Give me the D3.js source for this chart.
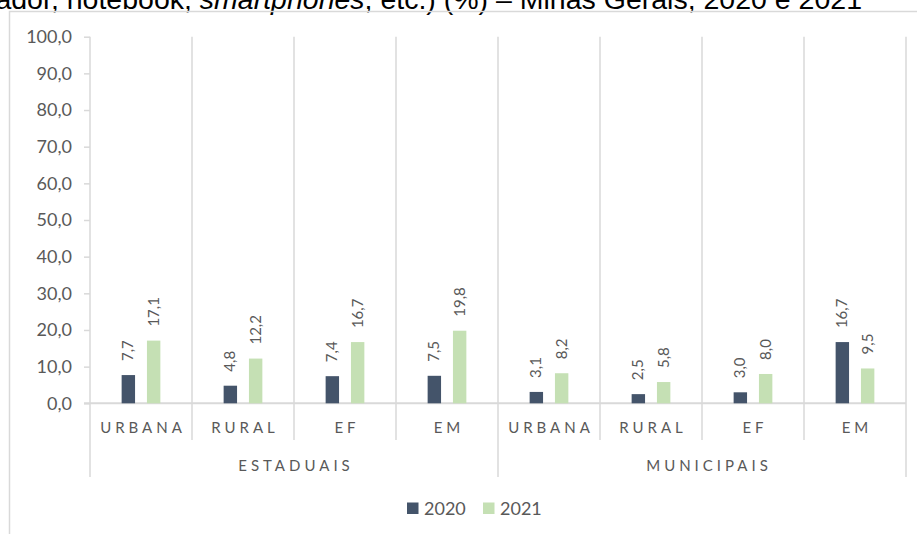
<!DOCTYPE html>
<html><head><meta charset="utf-8">
<script src="https://cdn.jsdelivr.net/npm/d3@7"></script>
<style>
html,body{margin:0;padding:0;background:#fff;overflow:hidden;}
svg{display:block;}
</style></head>
<body><svg id="chart" width="917" height="534"></svg>
<script>
const categories = ["URBANA","RURAL","EF","EM","URBANA","RURAL","EF","EM"];
const groups = ["ESTADUAIS","MUNICIPAIS"];
const years = ["2020","2021"];
const values2020 = [7.7, 4.8, 7.4, 7.5, 3.1, 2.5, 3.0, 16.7];
const values2021 = [17.1, 12.2, 16.7, 19.8, 8.2, 5.8, 8.0, 9.5];
const yTicks = [0,10,20,30,40,50,60,70,80,90,100];
const colors = ["#44546a", "#c5e0b4"];

const svg = d3.select("#chart");
const W = 917, H = 534;
const plot = {left: 90, right: 906, top: 36.7, bottom: 403.3};
const grid = "#d9d9d9";
const textGray = "#595959";
const fmt = v => d3.format(".1f")(v).replace(".", ",");

// title fragment (cut off at top, as in the reference)
const title = svg.append("text")
  .attr("x", 862).attr("y", 8.5)
  .attr("text-anchor", "end")
  .attr("font-family", "Liberation Sans, Arial, sans-serif")
  .attr("font-size", 28.5).attr("fill", "#000");
title.append("tspan").text("computador, notebook, ");
title.append("tspan").attr("font-style", "italic").text("smartphones");
title.append("tspan").text(", etc.) (%) – Minas Gerais, 2020 e 2021");

// outer border
svg.append("path")
  .attr("d", `M9.5,${H+2} V11.5 H${W+2}`)
  .attr("fill", "none").attr("stroke", grid).attr("stroke-width", 1.5);

const idx = d3.range(categories.length);
const x = d3.scaleBand().domain(idx).range([plot.left, plot.right]).padding(0);
const xSub = d3.scaleBand().domain(years).range([0, x.bandwidth()])
  .paddingInner(0.47).paddingOuter(1.25);
const y = d3.scaleLinear().domain([0, 100]).range([plot.bottom, plot.top]);

// vertical separators
const seps = d3.range(categories.length + 1);
svg.append("g").selectAll("line").data(seps).join("line")
  .attr("x1", i => i === categories.length ? plot.right : x(i))
  .attr("x2", i => i === categories.length ? plot.right : x(i))
  .attr("y1", plot.top)
  .attr("y2", i => (i % 4 === 0) ? 477 : 440)
  .attr("stroke", grid).attr("stroke-width", 1.5);

// y axis
const yAxis = d3.axisLeft(y).tickValues(yTicks).tickSize(6).tickPadding(12).tickFormat(fmt);
const ya = svg.append("g").attr("transform", `translate(${plot.left},0)`).call(yAxis);
ya.select(".domain").remove();
ya.selectAll(".tick line").attr("stroke", grid).attr("stroke-width", 1.5);
ya.selectAll(".tick text").attr("fill", textGray)
  .attr("font-family", "Lato, sans-serif").attr("font-size", 18);

// baseline
svg.append("line").attr("x1", plot.left - 6).attr("x2", plot.right)
  .attr("y1", y(0)).attr("y2", y(0)).attr("stroke", grid).attr("stroke-width", 2);

// bars
const series = [values2020, values2021];
series.forEach((vals, s) => {
  const g = svg.append("g");
  g.selectAll("rect").data(vals).join("rect")
    .attr("x", (d, i) => x(i) + xSub(years[s]))
    .attr("width", xSub.bandwidth())
    .attr("y", d => y(d))
    .attr("height", d => y(0) - y(d))
    .attr("fill", colors[s]);
  g.selectAll("text").data(vals).join("text")
    .attr("transform", (d, i) => `translate(${x(i) + xSub(years[s]) + xSub.bandwidth()/2 + 5},${y(d) - 14}) rotate(-90)`)
    .attr("text-anchor", "start")
    .attr("font-family", "Lato, sans-serif").attr("font-size", 15)
    .attr("fill", textGray)
    .text(d => fmt(d));
});

// category labels
svg.append("g").selectAll("text").data(categories).join("text")
  .attr("x", (d, i) => x(i) + x.bandwidth()/2 + 2)
  .attr("y", 433)
  .attr("text-anchor", "middle")
  .attr("font-family", "Lato, sans-serif").attr("font-size", 15)
  .attr("letter-spacing", 4)
  .attr("fill", textGray)
  .text(d => d);

// group labels
svg.append("g").selectAll("text").data(groups).join("text")
  .attr("x", (d, i) => x(i*4) + x.bandwidth()*2 + 2 + i*5)
  .attr("y", 471)
  .attr("text-anchor", "middle")
  .attr("font-family", "Lato, sans-serif").attr("font-size", 15)
  .attr("letter-spacing", 4)
  .attr("fill", textGray)
  .text(d => d);

// legend
const legX = [407, 483];
const leg = svg.append("g");
years.forEach((yr, i) => {
  leg.append("rect").attr("x", legX[i]).attr("y", 502.5).attr("width", 11.5).attr("height", 11.5).attr("fill", colors[i]);
  leg.append("text").attr("x", legX[i] + 17).attr("y", 515)
    .attr("font-family", "Lato, sans-serif").attr("font-size", 18)
    .attr("fill", textGray).text(yr);
});
</script></body></html>
